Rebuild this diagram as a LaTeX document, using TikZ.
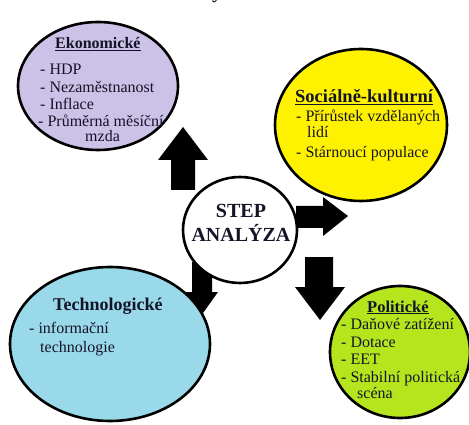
\documentclass[tikz,border=0pt]{standalone}
\usepackage{fontspec}
\setmainfont{Liberation Serif}
\definecolor{lav}{RGB}{204,193,230}
\definecolor{sky}{RGB}{153,217,234}
\definecolor{yel}{RGB}{255,242,0}
\definecolor{lime}{RGB}{181,230,29}
\definecolor{ink}{RGB}{20,20,40}
\tikzset{
  ell/.style={ellipse, draw=black, line width=2.6pt, inner sep=0pt},
  txt/.style={anchor=base west, inner sep=0pt, text=ink, font=\fontsize{16}{17}\selectfont},
  ttl/.style={anchor=base west, inner sep=0pt, text=ink},
  blk/.style={fill=black}
}
\usetikzlibrary{shapes.geometric}
\begin{document}
\begin{tikzpicture}[x=1pt,y=-1pt]
\useasboundingbox (0,0) rectangle (469,425);
% fragment of cut-off heading
\node[ttl, font=\bfseries\fontsize{20}{20}\selectfont] (frag) at (212,-1.5) {y};
% block arrows
\fill[blk] (171,190) -- (171,160) -- (158,160) -- (183,127) -- (208,160) -- (195,160) -- (195,190) -- cycle;
\fill[blk] (296,206) -- (323,206) -- (323,197) -- (348,216) -- (323,236) -- (323,228) -- (296,228) -- cycle;
\fill[blk] (305,257) -- (333,257) -- (333,287) -- (345,287) -- (320,320) -- (295,287) -- (305,287) -- cycle;
\fill[blk] (192,262) -- (212,262) -- (212,292) -- (218,292) -- (203,313) -- (182,292) -- (192,292) -- cycle;
% ellipses
\node[ell, fill=lav, minimum width=160pt, minimum height=128pt] (eko) at (98,86) {};
\node[ell, fill=yel, minimum width=172pt, minimum height=152pt] (soc) at (361,125) {};
\node[ell, fill=white, minimum width=114pt, minimum height=106pt] (step) at (240,230) {};
\node[ell, fill=sky, minimum width=200pt, minimum height=154pt] (tech) at (110,344) {};
\node[ell, fill=lime, minimum width=140pt, minimum height=132pt] (pol) at (400,352) {};
% Ekonomicke
\node[ttl, font=\bfseries\fontsize{16}{17}\selectfont] (e0) at (55,49) {\underline{Ekonomické}};
\node[txt] (e1) at (40,75) {- HDP};
\node[txt] (e2) at (40,93) {- Nezaměstnanost};
\node[txt] (e3) at (40,110) {- Inflace};
\node[txt] (e4) at (38,127) {- Průměrná měsíční};
\node[txt] (e5) at (85,142) {mzda};
% Socialne-kulturni
\node[ttl, font=\bfseries\fontsize{18.5}{19}\selectfont] (s0) at (295,103) {\underline{Sociálně-kulturní}};
\node[txt] (s1) at (296,122) {- Přírůstek vzdělaných};
\node[txt] (s2) at (307,138) {lidí};
\node[txt] (s3) at (296,158) {- Stárnoucí populace};
% STEP
\node[inner sep=0pt, anchor=base, text=ink, font=\bfseries\fontsize{20}{24}\selectfont] (c1) at (241,218) {STEP};
\node[inner sep=0pt, anchor=base, text=ink, font=\bfseries\fontsize{20}{24}\selectfont] (c2) at (241,242) {ANALÝZA};
% Technologicke
\node[ttl, font=\bfseries\fontsize{18}{19}\selectfont] (t0) at (53,310) {Technologické};
\node[txt] (t1) at (29,333) {- informační};
\node[txt] (t2) at (40,352) {technologie};
% Politicke
\node[ttl, font=\bfseries\fontsize{16.5}{17}\selectfont] (p0) at (367,312) {\underline{Politické}};
\node[txt] (p1) at (341,329) {- Daňové zatížení};
\node[txt] (p2) at (341,347) {- Dotace};
\node[txt] (p3) at (341,364) {- EET};
\node[txt] (p4) at (341,382) {- Stabilní politická};
\node[txt] (p5) at (357,398) {scéna};
\end{tikzpicture}
\end{document}
